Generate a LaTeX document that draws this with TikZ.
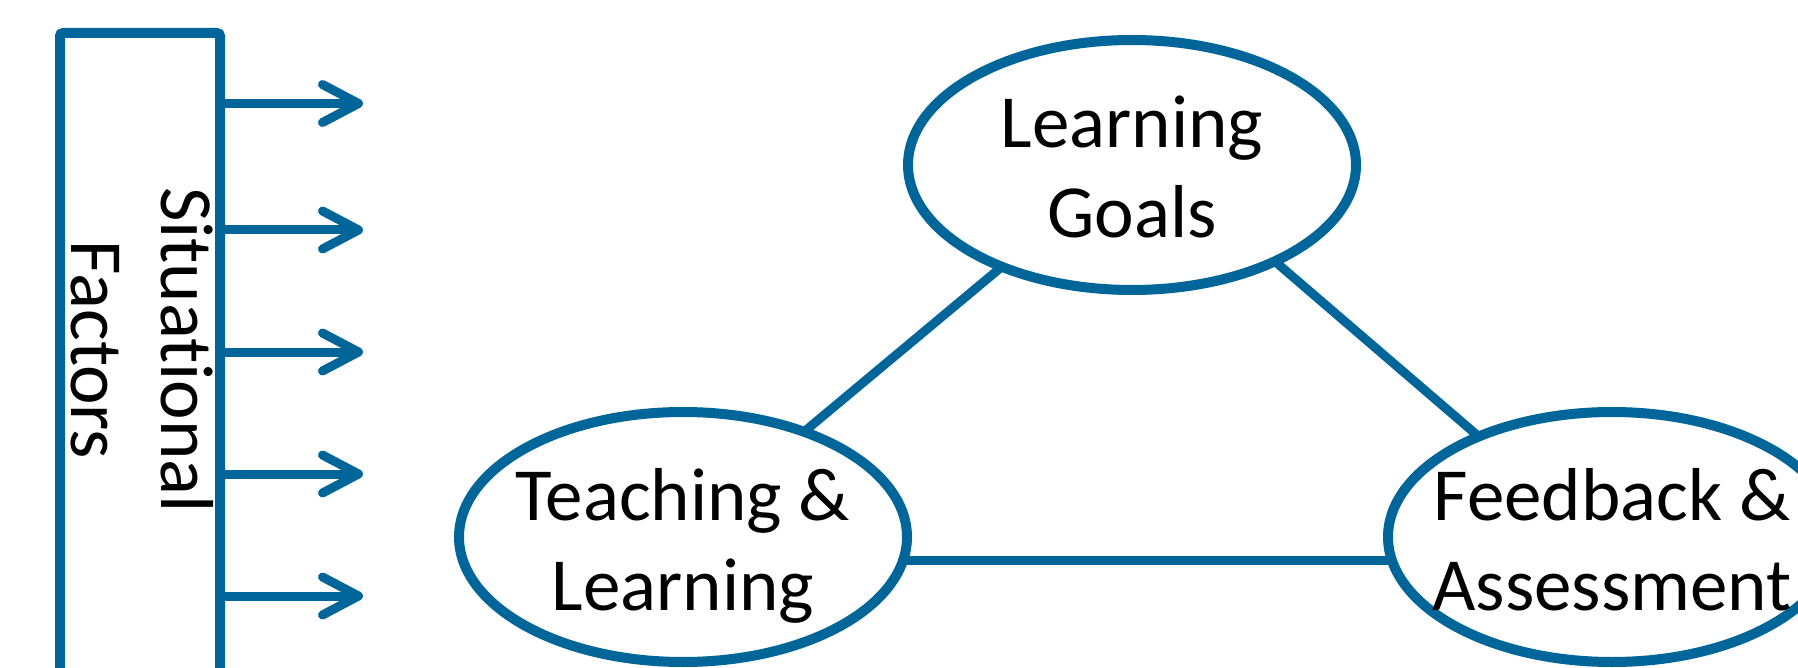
\documentclass[tikz,border=0pt]{standalone}
\usepackage{fontspec}
\setmainfont{Carlito}[Ligatures=NoCommon]
\usetikzlibrary{shapes.geometric,arrows.meta}
\definecolor{sfblue}{RGB}{0,102,153}
\newcommand{\mystrut}{\rule[-14pt]{0pt}{84pt}}
\begin{document}
\begin{tikzpicture}[x=1pt,y=-1pt,
  bub/.style={ellipse, draw=sfblue, line width=10pt, minimum width=448pt, minimum height=250pt, inner sep=0pt, outer sep=0pt},
  lbl/.style={align=center, inner sep=0pt, font=\fontsize{75}{90}\selectfont},
  link/.style={draw=sfblue, line width=9pt},
  factor/.style={draw=sfblue, line width=9pt, -{Straight Barb[length=36pt,width=38pt,round]}}]
\useasboundingbox (0,0) rectangle (1798,668);
% situational factors box
\node[draw=sfblue, line width=10pt, rounded corners=3pt, minimum width=160pt, minimum height=700pt, inner sep=0pt, outer sep=0pt, anchor=north west] (SF) at (60,33) {};
\node[lbl, rotate=-90, align=center] (SFt) at (144,350) {\mystrut Situational\\\mystrut Factors};
% arrows
\foreach \i/\y in {1/103.5,2/230,3/352,4/474,5/596}{
  \coordinate (s\i) at (220,\y);
  \coordinate (t\i) at (363,\y);
  \draw[factor] (s\i) -- (t\i);
}
% ellipses
\node[bub] (LG) at (1132,165) {};
\node[bub] (TL) at (683,537) {};
\node[bub] (FA) at (1612,537) {};
\node[lbl] (LGt) at (LG) {\mystrut Learning\\\mystrut Goals};
\node[lbl] (TLt) at (TL) {\mystrut Teaching \&\\\mystrut Learning};
\node[lbl] (FAt) at (FA) {\mystrut Feedback \&\\\mystrut Assessment};
% links
\draw[link] (LG.218) -- (TL.41);
\draw[link] (LG.326) -- (FA.143);
\draw[link] (TL.-6.5) -- (FA.186.5);
\end{tikzpicture}
\end{document}
